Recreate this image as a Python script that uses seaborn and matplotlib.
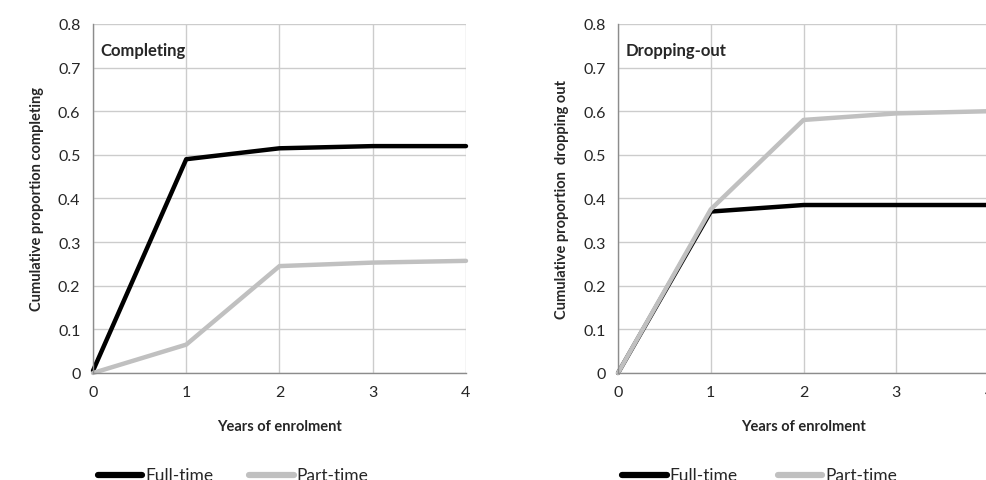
import numpy as np
import pandas as pd
import matplotlib
matplotlib.use("Agg")
from matplotlib import pyplot as plt
import seaborn as sns

# data
years = [0, 1, 2, 3, 4]
comp_full = [0.005, 0.49, 0.515, 0.52, 0.52]
comp_part = [0.0, 0.065, 0.245, 0.253, 0.257]
drop_full = [0.0, 0.37, 0.385, 0.385, 0.385]
drop_part = [0.0, 0.375, 0.58, 0.595, 0.60]
series = ["Full-time", "Part-time"]
yticks = [0, 0.1, 0.2, 0.3, 0.4, 0.5, 0.6, 0.7, 0.8]
ytick_labels = ["0", "0.1", "0.2", "0.3", "0.4", "0.5", "0.6", "0.7", "0.8"]

sns.set_style("white")
plt.rcParams['font.family'] = ['Lato', 'DejaVu Sans']

def long_df(full, part):
    return pd.DataFrame({
        "year": years * 2,
        "value": full + part,
        "status": [series[0]] * len(years) + [series[1]] * len(years),
    })

colors = {"Full-time": "#000000", "Part-time": "#c0c0c0"}

fig = plt.figure(figsize=(9.86, 4.81), dpi=100)
ax1 = fig.add_axes([0.0943, 0.2225, 0.3783, 0.7256])
ax2 = fig.add_axes([0.6268, 0.2225, 0.3763, 0.7256])

panels = [
    (ax1, long_df(comp_full, comp_part), "Completing", "Cumulative proportion completing", 0.0990, 0.253),
    (ax2, long_df(drop_full, drop_part), "Dropping-out", "Cumulative proportion  dropping out", 0.6310, 0.789),
]
legy = 0.011

for ax, df, title, ylab, legx, legx2 in panels:
    sns.lineplot(data=df, x="year", y="value", hue="status", palette=colors,
                 linewidth=3.2, ax=ax, legend=False, clip_on=False)
    ax.set_xlim(0, 4)
    ax.set_ylim(0, 0.8)
    ax.set_xticks(years)
    ax.set_yticks(yticks)
    ax.set_yticklabels(ytick_labels)
    ax.grid(True, color="#cccccc", linewidth=1.0)
    ax.set_axisbelow(True)
    for s in ["top", "right"]:
        ax.spines[s].set_visible(False)
    for s in ["left", "bottom"]:
        ax.spines[s].set_color("#8c8c8c")
        ax.spines[s].set_linewidth(1.0)
    ax.tick_params(axis="both", which="major", direction="out", length=4,
                   color="#8c8c8c", labelsize=11.5, pad=5)
    ax.set_xlabel("Years of enrolment", fontsize=10.5, fontweight="bold", labelpad=14)
    ax.set_ylabel(ylab, fontsize=10.5, fontweight="bold", labelpad=10)
    ax.text(0.02, 0.925, title, transform=ax.transAxes, fontsize=12,
            fontweight="bold", va="center", ha="left")

    for name, lx in zip(series, [legx, legx2]):
        fig.add_artist(plt.Line2D([lx, lx + 0.045], [legy, legy],
                                  color=colors[name], linewidth=4.5,
                                  solid_capstyle="round", transform=fig.transFigure))
        fig.text(lx + 0.048, legy, name, fontsize=12.5, va="center", ha="left")

fig.savefig("out.png", dpi=100)
